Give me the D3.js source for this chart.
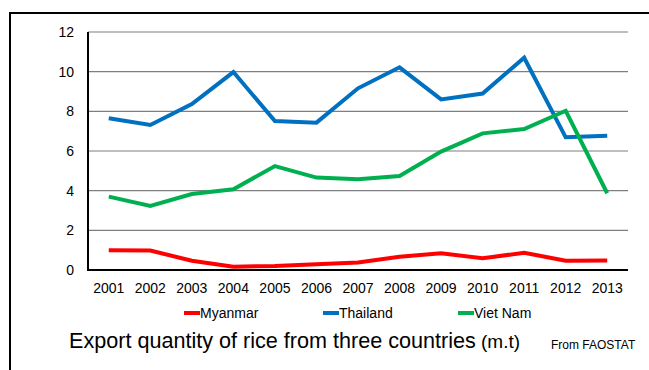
<!DOCTYPE html>
<html lang="en">
<head>
    <meta charset="UTF-8">
    <title>Export quantity of rice</title>
    <script src="https://d3js.org/d3.v7.min.js"></script>
    <style>
        body { margin: 0; background: #fff; }
        text { font-family: "Liberation Sans", Arial, sans-serif; fill: #000; }
    </style>
</head>
<body>
    <script>
        var years = ['2001','2002','2003','2004','2005','2006','2007','2008','2009','2010','2011','2012','2013'];
        var myanmar = [1.0, 0.98, 0.47, 0.17, 0.2, 0.29, 0.38, 0.67, 0.84, 0.59, 0.87, 0.47, 0.48];
        var thailand = [7.65, 7.31, 8.37, 9.98, 7.51, 7.43, 9.16, 10.22, 8.6, 8.9, 10.7, 6.69, 6.77];
        var vietnam = [3.7, 3.23, 3.83, 4.07, 5.24, 4.66, 4.57, 4.74, 5.97, 6.89, 7.11, 8.03, 3.87];
        var yTicks = [0, 2, 4, 6, 8, 10, 12];

        var series = [
            {name: 'Myanmar', values: myanmar, color: '#ff0000'},
            {name: 'Thailand', values: thailand, color: '#0070c0'},
            {name: 'Viet Nam', values: vietnam, color: '#00b050'}
        ];

        var w = 649, h = 370;
        var pLeft = 88, pRight = 628, pTop = 32, pBottom = 270;

        var svg = d3.select('body').append('svg').attr('width', w).attr('height', h);

        // outer frame, runs off the picture on the right and bottom
        svg.append('rect')
            .attr('x', 10).attr('y', 13)
            .attr('width', 700).attr('height', 400)
            .attr('fill', 'none').attr('stroke', '#000').attr('stroke-width', 2);

        var x = d3.scalePoint().domain(years).range([pLeft, pRight]).padding(0.5);
        var y = d3.scaleLinear().domain([0, 12]).range([pBottom, pTop]);

        // gridlines
        svg.selectAll('.grid').data(yTicks.filter(function(d){ return d > 0; }))
            .enter().append('line')
            .attr('x1', pLeft).attr('x2', pRight)
            .attr('y1', function(d){ return y(d); })
            .attr('y2', function(d){ return y(d); })
            .attr('stroke', '#7f7f7f').attr('stroke-width', 1.2);

        // y labels
        svg.selectAll('.ylab').data(yTicks).enter().append('text')
            .attr('x', 74).attr('y', function(d){ return y(d); })
            .attr('dy', '0.35em')
            .attr('text-anchor', 'end')
            .style('font-size', '14px')
            .text(function(d){ return d; });

        // x labels
        svg.selectAll('.xlab').data(years).enter().append('text')
            .attr('x', function(d){ return x(d); }).attr('y', 288)
            .attr('dy', '0.35em')
            .attr('text-anchor', 'middle')
            .style('font-size', '14px')
            .text(function(d){ return d; });

        // lines
        var line = d3.line()
            .x(function(d, i){ return x(years[i]); })
            .y(function(d){ return y(d); });

        svg.selectAll('.series').data(series).enter().append('path')
            .attr('d', function(s){ return line(s.values); })
            .attr('fill', 'none')
            .attr('stroke', function(s){ return s.color; })
            .attr('stroke-width', 4)
            .attr('stroke-linejoin', 'miter');

        // axes
        svg.append('line').attr('x1', pLeft).attr('x2', pLeft).attr('y1', pTop).attr('y2', pBottom + 1)
            .attr('stroke', '#000').attr('stroke-width', 2);
        svg.append('line').attr('x1', pLeft - 1).attr('x2', pRight).attr('y1', pBottom).attr('y2', pBottom)
            .attr('stroke', '#000').attr('stroke-width', 2);

        // legend
        var legX = [184, 323, 458];
        var leg = svg.selectAll('.leg').data(series).enter().append('g')
            .attr('transform', function(d, i){ return 'translate(' + legX[i] + ',313)'; });
        leg.append('line').attr('x1', 0).attr('x2', 16).attr('y1', 0).attr('y2', 0)
            .attr('stroke', function(d){ return d.color; }).attr('stroke-width', 4);
        leg.append('text').attr('x', 16).attr('dy', '0.35em')
            .style('font-size', '14px')
            .text(function(d){ return d.name; });

        // title
        svg.append('text').attr('x', 69).attr('y', 348)
            .style('font-size', '21.6px')
            .text('Export quantity of rice from three countries');
        svg.append('text').attr('x', 481).attr('y', 348)
            .style('font-size', '19px')
            .text('(m.t)');
        svg.append('text').attr('x', 551).attr('y', 349)
            .style('font-size', '12px')
            .text('From FAOSTAT');
    </script>
</body>
</html>
